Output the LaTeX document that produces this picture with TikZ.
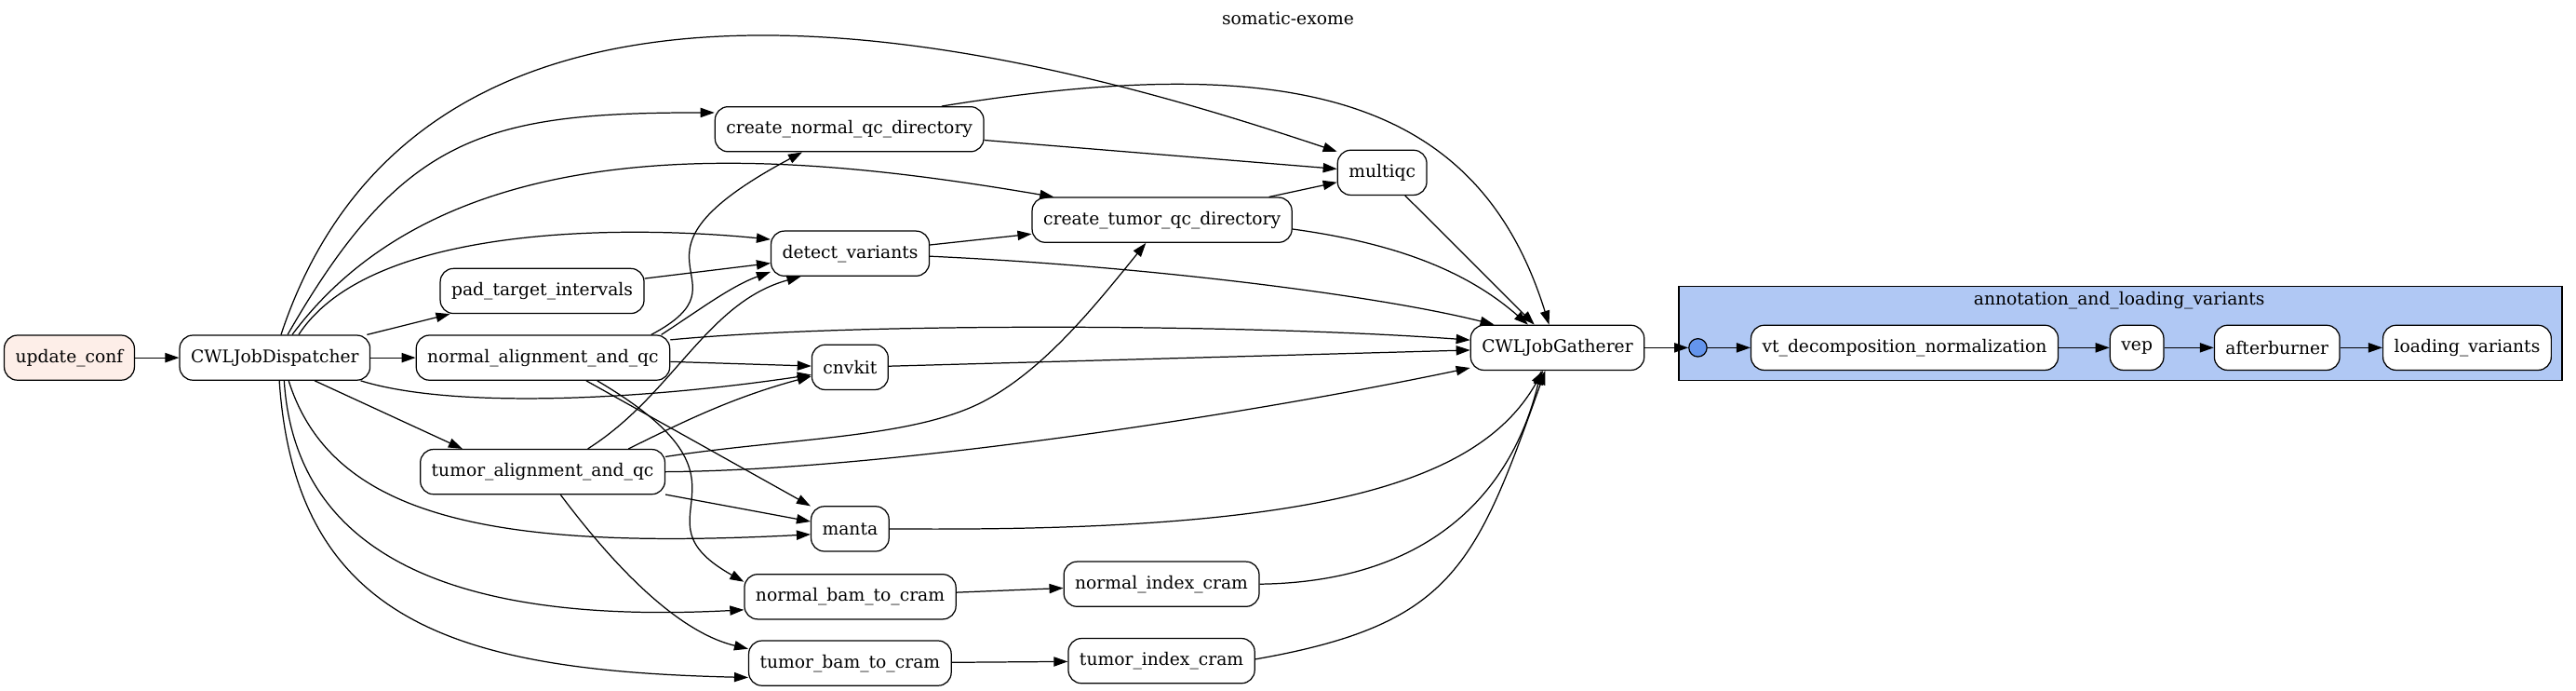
\documentclass[tikz,border=0pt]{standalone}
\usepackage{fontspec}
\setmainfont{DejaVu Serif}
\usetikzlibrary{arrows.meta}
\definecolor{confpink}{RGB}{253,238,232}
\definecolor{clusterblue}{RGB}{176,200,244}
\definecolor{hubblue}{RGB}{100,149,237}
\begin{document}
\begin{tikzpicture}[
        x=1pt, y=1pt,
        job/.style={rectangle, draw, rounded corners=8pt, fill=white, line width=0.7pt, minimum height=27.3pt, inner xsep=6.8pt, inner ysep=0pt, font=\fontsize{10.6}{13}\selectfont},
        hub/.style={circle, draw, fill=hubblue, line width=0.7pt, minimum size=11pt, inner sep=0pt},
        flow/.style={-{Triangle[length=8.5pt,width=5.8pt]}, line width=0.7pt},
        lbl/.style={inner sep=0pt, font=\fontsize{10.6}{13}\selectfont}
    ]
    \useasboundingbox (0,0) rectangle (1568,420);
    \node[lbl] (title) at (784,408.6) {somatic-exome};
    % subworkflow box
    \draw[line width=0.8pt, fill=clusterblue] (1022,188.7) rectangle (1559.5,245.7);
    \node[lbl] (clab) at (1290,237.2) {annotation\_and\_loading\_variants};
    % steps
    \node[job, fill=confpink] (uc) at (42.2,202.4) {update\_conf};
    \node[job] (disp) at (167.3,202.4) {CWLJobDispatcher};
    \node[job] (pad) at (330,243) {pad\_target\_intervals};
    \node[job] (nalign) at (330.5,202.4) {normal\_alignment\_and\_qc};
    \node[job] (talign) at (330.3,133) {tumor\_alignment\_and\_qc};
    \node[job] (ncq) at (517,341.4) {create\_normal\_qc\_directory};
    \node[job] (dv) at (517.5,265.8) {detect\_variants};
    \node[job] (cnv) at (517.4,196.6) {cnvkit};
    \node[job] (manta) at (517.4,98.3) {manta};
    \node[job] (nbam) at (517.5,57) {normal\_bam\_to\_cram};
    \node[job] (tbam) at (517.4,16.6) {tumor\_bam\_to\_cram};
    \node[job] (tcq) at (707.3,286.2) {create\_tumor\_qc\_directory};
    \node[job] (mqc) at (841.3,315) {multiqc};
    \node[job] (nidx) at (707,64.7) {normal\_index\_cram};
    \node[job] (tidx) at (707,18) {tumor\_index\_cram};
    \node[job] (gath) at (948,208.5) {CWLJobGatherer};
    \node[hub] (entry) at (1033.5,208.5) {};
    \node[job] (vt) at (1159.3,208.5) {vt\_decomposition\_normalization};
    \node[job] (vep) at (1300.7,208.5) {vep};
    \node[job] (ab) at (1386,208.5) {afterburner};
    \node[job] (lv) at (1501.7,208.5) {loading\_variants};
    % dispatcher fan-out
    \draw[flow] (uc) -- (disp);
    \draw[flow] (disp) -- (pad);
    \draw[flow] (disp) -- (nalign);
    \draw[flow] (disp.-30) -- (talign.164);
    \draw[flow] (disp.75) .. controls (265.5,501) and (659,379.3) .. (mqc.155);
    \draw[flow] (disp.61) .. controls (244.7,337.8) and (295.4,351.5) .. (ncq.173);
    \draw[flow] (disp.53) .. controls (277.6,350.2) and (488.9,326) .. (tcq.168);
    \draw[flow] (disp.44) .. controls (226,284.4) and (384,282.8) .. (dv.170);
    \draw[flow] (disp.-15.6) .. controls (276.3,170.75) and (393.5,177) .. (cnv.191);
    \draw[flow] (disp.-59) .. controls (202,105) and (300,85) .. (manta.188);
    \draw[flow] (disp.-68) .. controls (180,80) and (280,40) .. (nbam.187);
    \draw[flow] (disp.-79) .. controls (180,40) and (280,12) .. (tbam.188);
    % normal branch
    \draw[flow] (nalign.12.6) .. controls (461.8,251) and (365,261.7) .. (ncq.-154);
    \draw[flow] (nalign.11) .. controls (425,231) and (445,246) .. (dv.193);
    \draw[flow] (nalign.8.6) .. controls (520,224) and (760,223) .. (gath.175);
    \draw[flow] (nalign) -- (cnv);
    \draw[flow] (nalign.-28) -- (manta.150);
    \draw[flow] (nalign.-23.6) .. controls (472.4,124.5) and (381.1,106.4) .. (nbam.172);
    % tumor branch
    \draw[flow] (talign.27) .. controls (410,180) and (430,236) .. (dv.-155);
    \draw[flow] (talign.15) .. controls (415,163) and (445,178) .. (cnv.193);
    \draw[flow] (talign.7) .. controls (480,153.7) and (555.8,153.2) .. (599,176)
        .. controls (635,195) and (665,232) .. (tcq.-125);
    \draw[flow] (talign.east) .. controls (540,134) and (760,168) .. (gath.193);
    \draw[flow] (talign) -- (manta);
    \draw[flow] (talign.-52) .. controls (378,70) and (415,35) .. (tbam.172);
    % middle steps
    \draw[flow] (pad) -- (dv);
    \draw[flow] (dv) -- (tcq);
    \draw[flow] (ncq) -- (mqc);
    \draw[flow] (tcq) -- (mqc);
    \draw[flow] (nbam) -- (nidx);
    \draw[flow] (tbam) -- (tidx);
    % gathering
    \draw[flow] (ncq.14.6) .. controls (789.5,390.3) and (900,360) .. (gath.110);
    \draw[flow] (tcq.-4) .. controls (850,272) and (893,255) .. (gath.142);
    \draw[flow] (dv.-2) .. controls (700,258) and (840,240) .. (gath.160);
    \draw[flow] (mqc) -- (gath);
    \draw[flow] (cnv) -- (gath);
    \draw[flow] (manta.east) .. controls (800,96) and (900,125) .. (gath.-122);
    \draw[flow] (nidx.east) .. controls (870,66) and (920,120) .. (gath.-125);
    \draw[flow] (tidx.1) .. controls (884,40) and (898,75) .. (gath.-118);
    % annotation chain
    \draw[flow] (gath) -- (entry);
    \draw[flow] (entry) -- (vt);
    \draw[flow] (vt) -- (vep);
    \draw[flow] (vep) -- (ab);
    \draw[flow] (ab) -- (lv);
\end{tikzpicture}
\end{document}
